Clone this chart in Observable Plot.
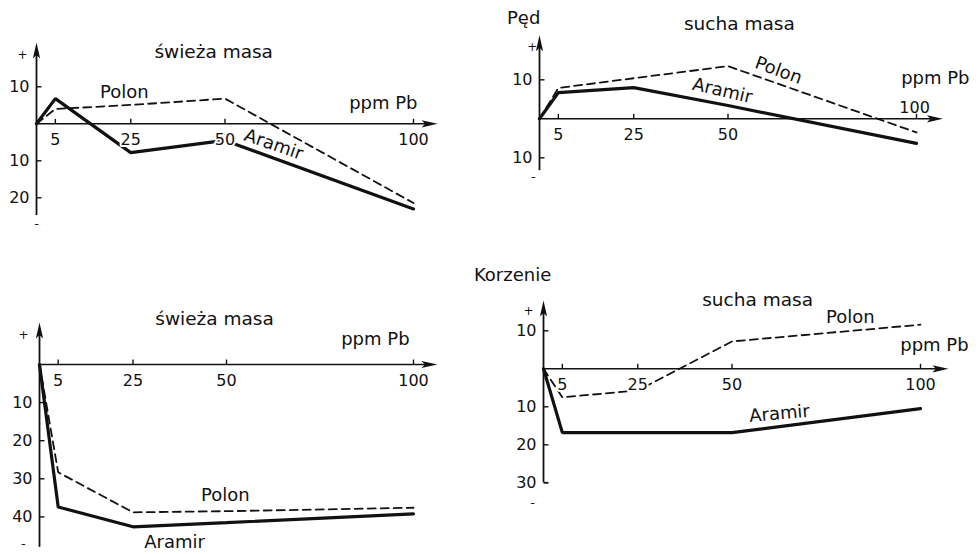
<!DOCTYPE html>
<html>
<head>
<meta charset="utf-8">
<script src="https://cdn.jsdelivr.net/npm/d3@7"></script>
<script src="https://cdn.jsdelivr.net/npm/@observablehq/plot@0.6"></script>
<style>
  html, body { margin: 0; padding: 0; background: #fff; }
  #chart { position: relative; width: 978px; height: 554px; overflow: hidden; }
  #chart svg { position: absolute; }
</style>
</head>
<body>
<div id="chart"></div>
<script>
// ---- data ----
const doses = [0, 5, 25, 50, 100];                       // ppm Pb
const xTickValues = [5, 25, 50, 100];

// Pęd – świeża masa
const pedSwiezaAramir = [0, 6.8, -7.8, -4.5, -23.0];
const pedSwiezaPolon  = [0, 4.0, 5.1, 6.8, -21.4];
const pedSwiezaYTicks = [10, -10, -20];
// Pęd – sucha masa
const pedSuchaAramir  = [0, 6.7, 8.0, 3.4, -6.3];
const pedSuchaPolon   = [0, 7.9, 10.4, 13.5, -3.5];
const pedSuchaYTicks  = [10, -10];
// Korzenie – świeża masa
const korzSwiezaAramir = [0, -37.4, -42.6, -41.5, -39.2];
const korzSwiezaPolon  = [0, -28.3, -38.8, -38.5, -37.6];
const korzSwiezaYTicks = [-10, -20, -30, -40];
// Korzenie – sucha masa
const korzSuchaAramir = [0, -16.8, -16.8, -16.8, -10.5];
const korzSuchaPolon  = [0, -7.5, -5.7, 7.2, 11.6];
const korzSuchaYTicks = [10, -10, -20, -30];

// ---- drawing ----
const FONT = "DejaVu Sans";
const spike = { draw(c) { c.moveTo(0, 0); c.lineTo(3.6, 16); c.lineTo(0, 12.5); c.lineTo(-3.6, 16); c.closePath(); } };
const tickUp = { draw(c) { c.moveTo(0, 0); c.lineTo(0, -5); } };
const tickRight = { draw(c) { c.moveTo(0, 0); c.lineTo(5, 0); } };

const panels = [
  { left: 0, top: 0, x0: 36, x100: 413, y0: 123.3, y10: 86.3,
    aramir: pedSwiezaAramir, polon: pedSwiezaPolon, yTicks: pedSwiezaYTicks,
    xLabels: [5, 25, 50, 100], axisY: [-24.8, 22], axisX: 106.4, foot: null,
    labels: [
      { t: "świeża masa", x: 47, y: 19.3, s: 18.5 },
      { t: "Polon", x: 23.3, y: 8.5, s: 18 },
      { t: "ppm Pb", x: 92, y: 5.5, s: 18 },
      { t: "Aramir", x: 62.9, y: -5.6, s: 18, r: 19 },
      { t: "+", x: -3.7, y: 18.5, s: 12 },
      { t: "-", x: 0, y: -26.9, s: 13 }
    ] },
  { left: 489, top: 0, x0: 50, x100: 427, y0: 118.3, y10: 79.3,
    aramir: pedSuchaAramir, polon: pedSuchaPolon, yTicks: pedSuchaYTicks,
    xLabels: [5, 25, 50], axisY: [-13.3, 21.4], axisX: 107, foot: null,
    labels: [
      { t: "Pęd", x: -4.2, y: 25.7, s: 18 },
      { t: "sucha masa", x: 53, y: 24.2, s: 18.5 },
      { t: "Polon", x: 63.4, y: 12.4, s: 18, r: 20 },
      { t: "Aramir", x: 48.5, y: 7.2, s: 18, r: 13 },
      { t: "ppm Pb", x: 105, y: 10.3, s: 18 },
      { t: "100", x: 99.5, y: 2.9, s: 16 },
      { t: "+", x: -1.9, y: 18.3, s: 12 },
      { t: "-", x: -1.6, y: -15, s: 13 }
    ] },
  { left: 0, top: 277, x0: 39, x100: 413, y0: 87, y10: 48.9,
    aramir: korzSwiezaAramir, polon: korzSwiezaPolon, yTicks: korzSwiezaYTicks,
    xLabels: [5, 25, 50, 100], axisY: [-48, 11], axisX: 106.4, foot: null,
    labels: [
      { t: "świeża masa", x: 46.8, y: 11.8, s: 18.5 },
      { t: "ppm Pb", x: 89.8, y: 6.6, s: 18 },
      { t: "Polon", x: 49.7, y: -34.4, s: 18 },
      { t: "Aramir", x: 36.1, y: -46.7, s: 18 },
      { t: "+", x: -4.3, y: 7.6, s: 12 },
      { t: "-", x: -4.3, y: -47, s: 13 }
    ] },
  { left: 489, top: 277, x0: 54, x100: 431, y0: 91.3, y10: 53.3,
    aramir: korzSuchaAramir, polon: korzSuchaPolon, yTicks: korzSuchaYTicks,
    xLabels: [5, 25, 50, 100], axisY: [-30, 18], axisX: 107.4, foot: -30,
    labels: [
      { t: "Korzenie", x: -8.2, y: 24.6, s: 18 },
      { t: "sucha masa", x: 56.8, y: 18, s: 18.5 },
      { t: "Polon", x: 81.4, y: 13.5, s: 18 },
      { t: "ppm Pb", x: 103.7, y: 6.1, s: 18 },
      { t: "Aramir", x: 62.6, y: -11.8, s: 18, r: -5 },
      { t: "+", x: -4, y: 15.3, s: 12 },
      { t: "-", x: -2.9, y: -35.2, s: 13 }
    ] }
];

const chart = document.getElementById("chart");

for (const p of panels) {
  const aramir = doses.map((d, i) => ({ x: d, y: p.aramir[i] }));
  const polon = doses.map((d, i) => ({ x: d, y: p.polon[i] }));
  const yTickMarks = p.yTicks.filter(v => v !== p.foot);
  const labelMarks = p.labels.map(l => Plot.text([l], {
    x: "x", y: "y", text: "t", fontSize: l.s, rotate: l.r || 0,
    fill: "#111", fontFamily: FONT
  }));

  const svg = Plot.plot({
    width: 489, height: 277, margin: 0,
    style: { fontFamily: FONT, background: "transparent", overflow: "visible" },
    x: { domain: [0, 100], range: [p.x0, p.x100], axis: null },
    y: { domain: [0, 10], range: [p.y0, p.y10], axis: null },
    marks: [
      // axes
      Plot.ruleY([0], { x1: 0, x2: p.axisX - 2, stroke: "#111", strokeWidth: 1.6 }),
      Plot.ruleX([0], { y1: p.axisY[0], y2: p.axisY[1] - 2, stroke: "#111", strokeWidth: 1.8 }),
      Plot.dot([{ x: p.axisX, y: 0 }], { x: "x", y: "y", symbol: spike, rotate: 90, fill: "#111", stroke: "none" }),
      Plot.dot([{ x: 0, y: p.axisY[1] }], { x: "x", y: "y", symbol: spike, rotate: 0, fill: "#111", stroke: "none" }),
      Plot.dot(xTickValues, { x: d => d, y: 0, symbol: tickUp, fill: "none", stroke: "#111", strokeWidth: 1.4 }),
      Plot.dot(yTickMarks, { x: 0, y: d => d, symbol: tickRight, fill: "none", stroke: "#111", strokeWidth: 1.4 }),
      p.foot !== null ? Plot.dot([p.foot], { x: 0, y: d => d, symbol: tickRight, fill: "none", stroke: "#111", strokeWidth: 1.8 }) : null,
      // series
      Plot.line(polon, { x: "x", y: "y", stroke: "#111", strokeWidth: 1.8, strokeDasharray: "8,5", strokeLinejoin: "miter" }),
      Plot.line(aramir, { x: "x", y: "y", stroke: "#111", strokeWidth: 3.2, strokeLinejoin: "miter" }),
      // tick labels
      Plot.text(p.xLabels, { x: d => d, y: 0, dy: 16, text: d => String(d), fontSize: 16, fill: "#111",
        stroke: "white", strokeWidth: 4, fontFamily: FONT }),
      Plot.text(p.yTicks, { x: 0, y: d => d, dx: -7, textAnchor: "end", text: d => String(Math.abs(d)),
        fontSize: 16, fill: "#111", fontFamily: FONT }),
      ...labelMarks
    ].filter(Boolean)
  });
  svg.style.left = p.left + "px";
  svg.style.top = p.top + "px";
  chart.appendChild(svg);
}
</script>
</body>
</html>
